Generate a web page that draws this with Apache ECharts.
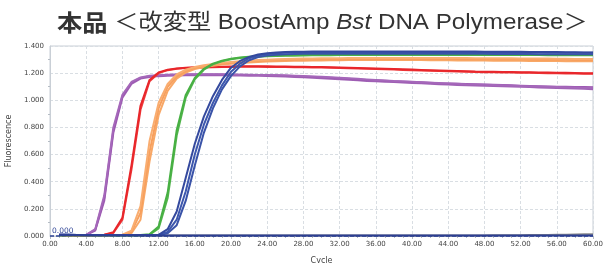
<!DOCTYPE html>
<html>
<head>
<meta charset="utf-8">
<script src="https://cdn.jsdelivr.net/npm/echarts@6/dist/echarts.min.js"></script>
<style>
html,body{margin:0;padding:0;background:#fff;}
#chart{width:604px;height:263px;}
</style>
</head>
<body>
<div id="chart"></div>
<script>
const titleBold = '本品';
const titleRest = ' ＜改変型 BoostAmp ';
const titleItalic = 'Bst';
const titleTail = ' DNA Polymerase＞';
const xName = 'Cycle';
const yName = 'Fluorescence';
const thresholdValue = 0.0;

const cycles = [1,2,3,4,5,6,7,8,9,10,11,12,13,14,15,16,17,18,19,20,21,22,23,24,25,26,27,28,29,30,31,32,33,34,35,36,37,38,39,40,41,42,43,44,45,46,47,48,49,50,51,52,53,54,55,56,57,58,59,60];

const purple1 = [0.009,0.008,0.007,0.009,0.045,0.28,0.78,1.03,1.13,1.165,
  1.178,1.183,1.186,1.188,1.189,1.19,1.19,1.19,1.19,1.189,
  1.188,1.187,1.186,1.185,1.184,1.182,1.179,1.176,1.173,1.17,
  1.166,1.162,1.158,1.154,1.15,1.147,1.144,1.141,1.138,1.135,
  1.132,1.129,1.126,1.124,1.122,1.12,1.118,1.116,1.114,1.112,
  1.11,1.108,1.106,1.104,1.102,1.1,1.099,1.098,1.097,1.096];
const purple2 = [0.008,0.007,0.006,0.008,0.04,0.26,0.76,1.02,1.12,1.16,
  1.172,1.178,1.181,1.183,1.184,1.185,1.185,1.185,1.184,1.183,
  1.182,1.181,1.18,1.179,1.177,1.175,1.172,1.169,1.166,1.163,
  1.159,1.155,1.151,1.147,1.143,1.14,1.137,1.134,1.131,1.128,
  1.125,1.122,1.119,1.116,1.113,1.111,1.109,1.107,1.105,1.103,
  1.101,1.099,1.097,1.095,1.093,1.091,1.089,1.087,1.085,1.082];
const purple3 = [0.008,0.007,0.007,0.008,0.05,0.3,0.8,1.04,1.135,1.168,
  1.18,1.185,1.188,1.19,1.191,1.192,1.192,1.192,1.191,1.19,
  1.189,1.188,1.187,1.186,1.185,1.183,1.181,1.179,1.176,1.173,
  1.17,1.166,1.162,1.158,1.154,1.15,1.146,1.142,1.139,1.136,
  1.133,1.13,1.127,1.124,1.121,1.118,1.116,1.114,1.112,1.11,
  1.108,1.106,1.104,1.102,1.1,1.098,1.096,1.094,1.092,1.09];

const red1 = [0.008,0.007,0.006,0.006,0.007,0.01,0.027,0.135,0.52,0.96,
  1.15,1.205,1.225,1.235,1.24,1.243,1.245,1.247,1.248,1.249,
  1.25,1.25,1.25,1.25,1.249,1.249,1.248,1.247,1.246,1.245,
  1.244,1.242,1.24,1.238,1.236,1.234,1.232,1.23,1.228,1.226,
  1.224,1.222,1.22,1.218,1.216,1.214,1.212,1.211,1.21,1.209,
  1.208,1.207,1.206,1.205,1.204,1.203,1.202,1.201,1.2,1.2];
const red2 = [0.007,0.006,0.006,0.006,0.007,0.009,0.022,0.12,0.49,0.93,
  1.14,1.2,1.222,1.232,1.237,1.24,1.242,1.244,1.245,1.246,
  1.247,1.247,1.247,1.246,1.246,1.245,1.244,1.243,1.242,1.241,
  1.24,1.238,1.236,1.234,1.232,1.23,1.228,1.226,1.224,1.222,
  1.22,1.218,1.216,1.214,1.212,1.21,1.208,1.207,1.206,1.205,
  1.204,1.203,1.202,1.201,1.2,1.199,1.198,1.197,1.196,1.196];

const orange1 = [0.007,0.006,0.006,0.006,0.006,0.006,0.007,0.009,0.04,0.22,
  0.7,0.98,1.12,1.19,1.225,1.245,1.258,1.268,1.276,1.283,
  1.288,1.292,1.296,1.299,1.302,1.304,1.306,1.307,1.308,1.309,
  1.31,1.31,1.311,1.311,1.311,1.311,1.312,1.312,1.312,1.312,
  1.312,1.312,1.312,1.311,1.311,1.311,1.31,1.31,1.31,1.309,
  1.309,1.308,1.308,1.307,1.307,1.306,1.306,1.305,1.305,1.304];
const orange2 = [0.007,0.006,0.006,0.006,0.006,0.006,0.007,0.008,0.03,0.17,
  0.62,0.94,1.1,1.175,1.215,1.238,1.252,1.262,1.27,1.277,
  1.282,1.286,1.29,1.293,1.295,1.297,1.299,1.3,1.301,1.302,
  1.303,1.303,1.304,1.304,1.304,1.305,1.305,1.305,1.305,1.305,
  1.305,1.305,1.304,1.304,1.304,1.303,1.303,1.302,1.302,1.301,
  1.301,1.3,1.3,1.299,1.299,1.298,1.298,1.297,1.297,1.296];
const orange3 = [0.007,0.006,0.006,0.006,0.006,0.006,0.006,0.007,0.02,0.12,
  0.55,0.89,1.07,1.16,1.205,1.23,1.245,1.255,1.263,1.27,
  1.275,1.279,1.283,1.286,1.288,1.29,1.291,1.292,1.293,1.294,
  1.295,1.295,1.296,1.296,1.296,1.296,1.296,1.296,1.296,1.296,
  1.296,1.295,1.295,1.295,1.294,1.294,1.293,1.293,1.292,1.292,
  1.291,1.291,1.29,1.29,1.289,1.289,1.288,1.288,1.287,1.287];

const green1 = [0.006,0.006,0.006,0.006,0.006,0.006,0.006,0.006,0.006,0.007,
  0.012,0.07,0.32,0.78,1.04,1.165,1.232,1.27,1.292,1.306,
  1.315,1.321,1.325,1.328,1.33,1.332,1.333,1.334,1.335,1.335,
  1.336,1.336,1.336,1.336,1.336,1.337,1.337,1.337,1.337,1.337,
  1.337,1.337,1.337,1.337,1.337,1.337,1.337,1.336,1.336,1.336,
  1.336,1.336,1.336,1.336,1.335,1.335,1.335,1.335,1.335,1.335];
const green2 = [0.006,0.006,0.006,0.006,0.006,0.006,0.006,0.006,0.006,0.006,
  0.01,0.055,0.28,0.74,1.02,1.155,1.225,1.265,1.288,1.302,
  1.311,1.317,1.321,1.324,1.326,1.328,1.329,1.33,1.331,1.332,
  1.332,1.333,1.333,1.333,1.333,1.334,1.334,1.334,1.334,1.334,
  1.334,1.334,1.334,1.334,1.334,1.334,1.334,1.333,1.333,1.333,
  1.333,1.333,1.333,1.333,1.332,1.332,1.332,1.332,1.332,1.332];

const blue1 = [0.01,0.009,0.008,0.008,0.007,0.007,0.007,0.007,0.007,0.007,
  0.007,0.009,0.05,0.18,0.43,0.68,0.88,1.03,1.15,1.24,
  1.29,1.32,1.337,1.347,1.352,1.355,1.357,1.358,1.359,1.36,
  1.36,1.36,1.36,1.36,1.36,1.36,1.36,1.36,1.36,1.36,
  1.36,1.36,1.36,1.36,1.359,1.359,1.359,1.358,1.358,1.358,
  1.357,1.357,1.356,1.356,1.355,1.355,1.354,1.354,1.353,1.353];
const blue2 = [0.01,0.009,0.008,0.008,0.007,0.007,0.007,0.007,0.007,0.007,
  0.007,0.008,0.03,0.12,0.33,0.6,0.82,0.98,1.11,1.21,
  1.27,1.31,1.33,1.34,1.347,1.351,1.353,1.354,1.355,1.355,
  1.355,1.355,1.355,1.355,1.355,1.355,1.355,1.355,1.355,1.355,
  1.355,1.355,1.355,1.354,1.354,1.354,1.354,1.353,1.353,1.353,
  1.353,1.352,1.352,1.352,1.351,1.351,1.351,1.35,1.35,1.35];
const blue3 = [0.01,0.009,0.008,0.008,0.007,0.007,0.007,0.007,0.007,0.007,
  0.006,0.007,0.02,0.08,0.26,0.52,0.76,0.94,1.08,1.18,
  1.25,1.295,1.318,1.33,1.336,1.339,1.341,1.342,1.343,1.343,
  1.343,1.343,1.343,1.343,1.343,1.343,1.343,1.343,1.343,1.343,
  1.343,1.343,1.343,1.342,1.342,1.342,1.342,1.342,1.341,1.341,
  1.341,1.341,1.341,1.34,1.34,1.34,1.34,1.34,1.34,1.34];

const negBlue = [0.006,0.005,0.005,0.004,0.004,0.004,0.004,0.004,0.004,0.004,
  0.004,0.004,0.004,0.004,0.004,0.004,0.004,0.004,0.004,0.004,
  0.004,0.004,0.004,0.004,0.004,0.004,0.004,0.004,0.004,0.004,
  0.004,0.004,0.004,0.004,0.004,0.004,0.004,0.004,0.004,0.004,
  0.004,0.004,0.004,0.004,0.004,0.004,0.004,0.004,0.004,0.004,
  0.004,0.004,0.004,0.004,0.004,0.004,0.004,0.004,0.004,0.004];
const negGray = [0.003,0.003,0.003,0.003,0.003,0.003,0.003,0.003,0.003,0.003,
  0.003,0.003,0.003,0.003,0.003,0.003,0.003,0.003,0.003,0.003,
  0.003,0.003,0.003,0.003,0.003,0.003,0.003,0.003,0.003,0.003,
  0.003,0.003,0.003,0.003,0.003,0.003,0.003,0.003,0.003,0.003,
  0.003,0.003,0.003,0.003,0.003,0.003,0.004,0.004,0.005,0.005,
  0.006,0.006,0.007,0.008,0.008,0.009,0.01,0.011,0.012,0.013];

const curves = [
  {data: negGray, color: '#8c8c8c'},
  {data: purple2, color: '#a063b5'},
  {data: purple1, color: '#9b55b0'},
  {data: purple3, color: '#a568ba'},
  {data: red2, color: '#ef3b3b'},
  {data: red1, color: '#e8262b'},
  {data: orange3, color: '#f8a867'},
  {data: orange2, color: '#f79f5c'},
  {data: orange1, color: '#f9ad70'},
  {data: green2, color: '#52b44c'},
  {data: green1, color: '#47b043'},
  {data: blue3, color: '#3a53a8'},
  {data: blue2, color: '#3d57ad'},
  {data: blue1, color: '#34499e'},
  {data: negBlue, color: '#2d3f92'}
];

const chart = echarts.init(document.getElementById('chart'), null, {renderer: 'canvas'});
const axisFont = 'DejaVu Sans';
const series = curves.map((c, i) => ({
  type: 'line',
  data: cycles.map((x, k) => [x, c.data[k]]),
  showSymbol: false,
  symbol: 'none',
  lineStyle: {width: 2, color: c.color},
  itemStyle: {color: c.color},
  silent: true,
  z: 2 + i
}));
series[series.length - 1].markLine = {
  silent: true,
  symbol: ['none', 'none'],
  data: [{yAxis: thresholdValue}],
  lineStyle: {color: '#2f4496', type: [4, 2], width: 1.6},
  label: {show: true, position: 'insideStartTop', formatter: thresholdValue.toFixed(3),
          color: '#2f4496', fontSize: 7.5, fontFamily: axisFont, distance: [2, 1]}
};

chart.setOption({
  animation: false,
  backgroundColor: '#fff',
  grid: {left: 50, right: 11, top: 46, bottom: 27, show: true, borderColor: '#c9cfd6', borderWidth: 1,
         containLabel: false, outerBoundsMode: 'none'},
  graphic: [{
    type: 'text',
    x: 57, y: 11,
    scaleX: 1.1,
    style: {
      text: '{b|' + titleBold + '}{n|' + titleRest + '}{i|' + titleItalic + '}{n|' + titleTail + '}',
      rich: {
        b: {fontSize: 23, fontWeight: 'bold', fontFamily: 'Noto Sans CJK JP', fill: '#333', color: '#333'},
        n: {fontSize: 22, fontFamily: 'Liberation Sans, Noto Sans CJK JP', fill: '#333', color: '#333'},
        i: {fontSize: 22, fontStyle: 'italic', fontFamily: 'Liberation Sans', fill: '#333', color: '#333'}
      }
    }
  }],
  xAxis: {
    type: 'value', min: 0, max: 60, interval: 4,
    name: xName, nameLocation: 'middle', nameGap: 21,
    nameTextStyle: {fontSize: 8, color: '#444', fontFamily: axisFont},
    axisLine: {show: true, lineStyle: {color: '#c9cfd6'}},
    axisTick: {show: true, length: 3, lineStyle: {color: '#b5bcc4'}},
    minorTick: {show: true, splitNumber: 4, length: 2, lineStyle: {color: '#b5bcc4'}},
    axisLabel: {fontSize: 7, color: '#444', fontFamily: axisFont, margin: 5, formatter: v => v.toFixed(2)},
    splitLine: {show: true, lineStyle: {color: '#d9dee3', type: [3, 2]}}
  },
  yAxis: {
    type: 'value', min: 0, max: 1.4, interval: 0.2,
    name: yName, nameLocation: 'middle', nameGap: 30,
    nameTextStyle: {fontSize: 8, color: '#444', fontFamily: axisFont},
    axisLine: {show: true, lineStyle: {color: '#c9cfd6'}},
    axisTick: {show: false},
    minorTick: {show: true, splitNumber: 2, length: 2, lineStyle: {color: '#b5bcc4'}},
    axisLabel: {fontSize: 7, color: '#444', fontFamily: axisFont, margin: 6, formatter: v => v.toFixed(3)},
    splitLine: {show: true, lineStyle: {color: '#d9dee3', type: [3, 2]}}
  },
  series: series
});
</script>
</body>
</html>
